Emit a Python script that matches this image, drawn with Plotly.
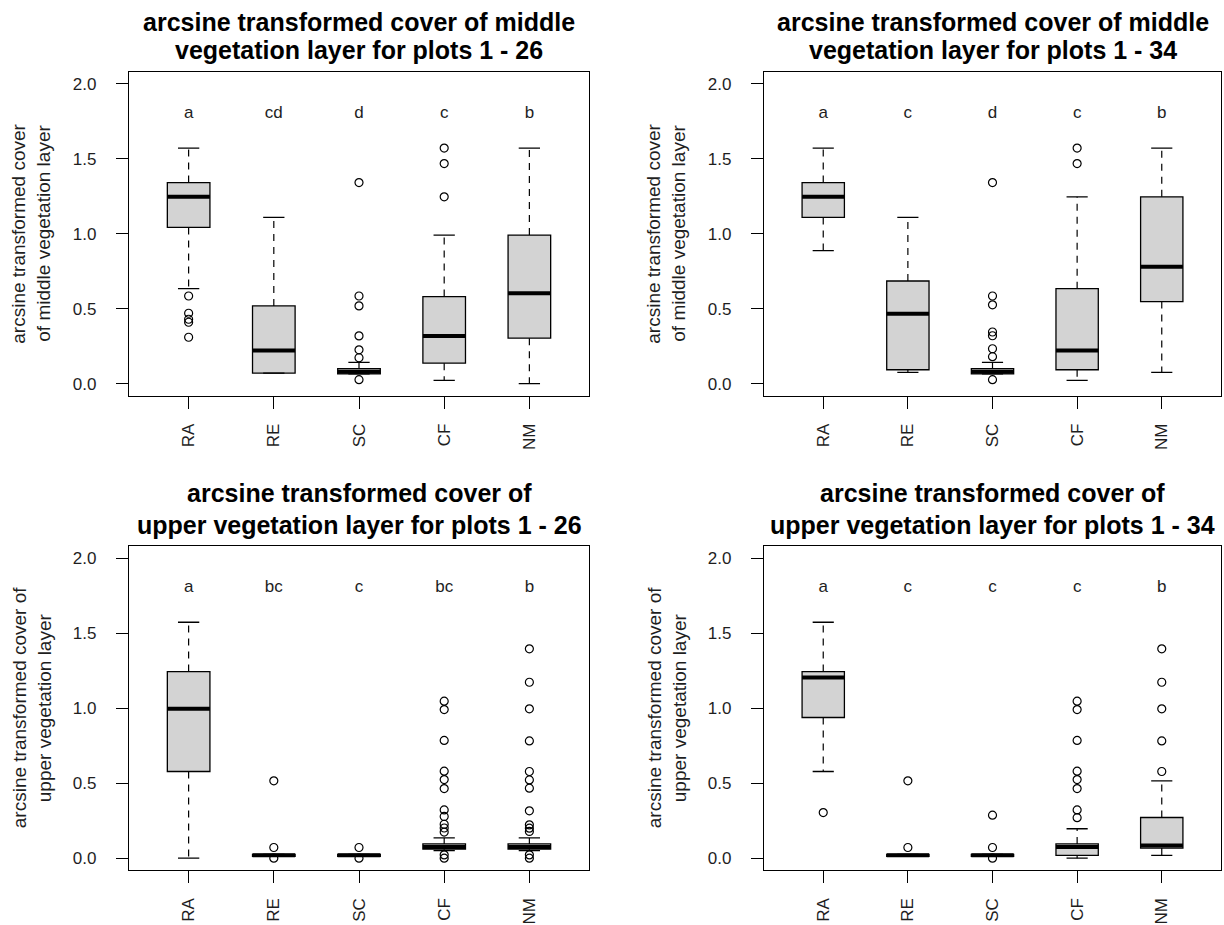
import plotly.graph_objects as go

W, H = 1224, 925

CATEGORIES = ["RA", "RE", "SC", "CF", "NM"]
POS = [1, 2, 3, 4, 5]
Y_TICKS = [0.0, 0.5, 1.0, 1.5, 2.0]
Y_TICK_LABELS = ["0.0", "0.5", "1.0", "1.5", "2.0"]
LETTER_Y = 1.8

# ---- panel 1: middle layer, plots 1-26
MID26_LOWER = [0.634, 0.071, 0.065, 0.022, 0.0]
MID26_Q1 = [1.042, 0.071, 0.065, 0.137, 0.304]
MID26_MEDIAN = [1.246, 0.222, 0.080, 0.319, 0.603]
MID26_Q3 = [1.341, 0.519, 0.100, 0.581, 0.991]
MID26_UPPER = [1.571, 1.109, 0.142, 0.991, 1.571]
MID26_OUTLIERS = [[0.585, 0.47, 0.43, 0.41, 0.31], [],
                  [0.027, 0.173, 0.226, 0.319, 0.519, 0.585, 1.341],
                  [1.246, 1.468, 1.571], []]
MID26_LETTERS = ["a", "cd", "d", "c", "b"]

# ---- panel 2: middle layer, plots 1-34
MID34_LOWER = [0.887, 0.075, 0.065, 0.022, 0.075]
MID34_Q1 = [1.109, 0.093, 0.065, 0.093, 0.548]
MID34_MEDIAN = [1.246, 0.466, 0.080, 0.222, 0.780]
MID34_Q3 = [1.341, 0.685, 0.100, 0.634, 1.246]
MID34_UPPER = [1.571, 1.109, 0.142, 1.246, 1.571]
MID34_OUTLIERS = [[], [],
                  [0.027, 0.18, 0.233, 0.32, 0.345, 0.526, 0.585, 1.341],
                  [1.468, 1.571], []]
MID34_LETTERS = ["a", "c", "d", "c", "b"]

# ---- panel 3: upper layer, plots 1-26
UP26_LOWER = [0.0, 0.012, 0.012, 0.05, 0.05]
UP26_Q1 = [0.578, 0.012, 0.012, 0.06, 0.06]
UP26_MEDIAN = [0.996, 0.020, 0.020, 0.075, 0.075]
UP26_Q3 = [1.244, 0.025, 0.025, 0.095, 0.095]
UP26_UPPER = [1.573, 0.025, 0.025, 0.135, 0.135]
UP26_OUTLIERS = [[], [0.0, 0.071, 0.516], [0.0, 0.071],
                 [0.0, 0.022, 0.174, 0.201, 0.226, 0.278, 0.322, 0.464, 0.524,
                  0.58, 0.785, 0.991, 1.047],
                 [0.0, 0.022, 0.178, 0.2, 0.222, 0.316, 0.467, 0.522, 0.578,
                  0.782, 0.996, 1.173, 1.396]]
UP26_LETTERS = ["a", "bc", "c", "bc", "b"]

# ---- panel 4: upper layer, plots 1-34
UP34_LOWER = [0.578, 0.012, 0.012, 0.0, 0.018]
UP34_Q1 = [0.938, 0.012, 0.012, 0.018, 0.067]
UP34_MEDIAN = [1.204, 0.020, 0.020, 0.075, 0.084]
UP34_Q3 = [1.244, 0.025, 0.025, 0.095, 0.271]
UP34_UPPER = [1.573, 0.025, 0.025, 0.196, 0.516]
UP34_OUTLIERS = [[0.304], [0.071, 0.516], [0.0, 0.071, 0.287],
                 [0.27, 0.322, 0.464, 0.524, 0.58, 0.785, 0.991, 1.047],
                 [0.578, 0.782, 0.996, 1.173, 1.396]]
UP34_LETTERS = ["a", "c", "c", "c", "b"]

TITLES = [["arcsine transformed cover of middle", "vegetation layer for plots 1 - 26"],
          ["arcsine transformed cover of middle", "vegetation layer for plots 1 - 34"],
          ["arcsine transformed cover of", "upper vegetation layer for plots 1 - 26"],
          ["arcsine transformed cover of", "upper vegetation layer for plots 1 - 34"]]
YTITLES = [["arcsine transformed cover", "of middle vegetation layer"],
           ["arcsine transformed cover", "of middle vegetation layer"],
           ["arcsine transformed cover of", "upper vegetation layer"],
           ["arcsine transformed cover of", "upper vegetation layer"]]

PANELS = [
    (MID26_LOWER, MID26_Q1, MID26_MEDIAN, MID26_Q3, MID26_UPPER, MID26_OUTLIERS, MID26_LETTERS),
    (MID34_LOWER, MID34_Q1, MID34_MEDIAN, MID34_Q3, MID34_UPPER, MID34_OUTLIERS, MID34_LETTERS),
    (UP26_LOWER, UP26_Q1, UP26_MEDIAN, UP26_Q3, UP26_UPPER, UP26_OUTLIERS, UP26_LETTERS),
    (UP34_LOWER, UP34_Q1, UP34_MEDIAN, UP34_Q3, UP34_UPPER, UP34_OUTLIERS, UP34_LETTERS),
]

# plot-area rectangles in pixels (left, right, top, bottom)
RECTS = [(129, 589, 72, 397), (764, 1221, 72, 397),
         (129, 589, 548, 873), (764, 1221, 548, 873)]
TITLE_LINES_Y = [(22, 50), (22, 50), (495, 527), (495, 527)]

BOX_W = 0.5
CAP_HALF = 0.125
FONT = "Liberation Sans, Arial, sans-serif"
TXT = "#1e1e1e"

fig = go.Figure()
annotations = []
for k, (panel, rect) in enumerate(zip(PANELS, RECTS), start=1):
    lower, q1, med, q3, upper, outliers, letters = panel
    xa, ya = f"x{k}", f"y{k}"
    fig.add_trace(go.Box(x=POS, q1=q1, median=med, q3=q3, lowerfence=q1, upperfence=q3,
                         width=BOX_W, whiskerwidth=0, fillcolor="#d3d3d3",
                         line=dict(color="black", width=1.3), boxpoints=False,
                         showlegend=False, hoverinfo="skip", xaxis=xa, yaxis=ya))
    # dashed whiskers
    wx, wy = [], []
    for p, a, b, c, d in zip(POS, lower, q1, q3, upper):
        wx += [p, p, None, p, p, None]
        wy += [c, d, None, b, a, None]
    fig.add_trace(go.Scatter(x=wx, y=wy, mode="lines", line=dict(color="black", width=1.2, dash="7px,6px"),
                             showlegend=False, hoverinfo="skip", xaxis=xa, yaxis=ya))
    # staples
    sx, sy = [], []
    for p, a, d in zip(POS, lower, upper):
        sx += [p - CAP_HALF, p + CAP_HALF, None, p - CAP_HALF, p + CAP_HALF, None]
        sy += [a, a, None, d, d, None]
    fig.add_trace(go.Scatter(x=sx, y=sy, mode="lines", line=dict(color="black", width=1.3),
                             showlegend=False, hoverinfo="skip", xaxis=xa, yaxis=ya))
    # thick medians
    mx, my = [], []
    for p, m in zip(POS, med):
        mx += [p - BOX_W / 2, p + BOX_W / 2, None]
        my += [m, m, None]
    fig.add_trace(go.Scatter(x=mx, y=my, mode="lines", line=dict(color="black", width=4),
                             showlegend=False, hoverinfo="skip", xaxis=xa, yaxis=ya))
    # outliers
    ox, oy = [], []
    for p, outs in zip(POS, outliers):
        ox += [p] * len(outs)
        oy += outs
    fig.add_trace(go.Scatter(x=ox, y=oy, mode="markers",
                             marker=dict(symbol="circle-open", size=8, color="black", line=dict(width=1.2)),
                             showlegend=False, hoverinfo="skip", xaxis=xa, yaxis=ya))
    # group letters
    fig.add_trace(go.Scatter(x=POS, y=[LETTER_Y] * len(POS), mode="text", text=letters,
                             textfont=dict(family=FONT, size=17, color=TXT),
                             showlegend=False, hoverinfo="skip", xaxis=xa, yaxis=ya))

    l, r, t, b = rect
    axis_common = dict(showline=True, linecolor="black", linewidth=1.3, mirror=True,
                       ticks="outside", ticklen=12, tickcolor="black", tickwidth=1.2,
                       showgrid=False, zeroline=False,
                       tickfont=dict(family=FONT, size=17, color=TXT))
    fig.update_layout(**{
        f"xaxis{k}": dict(domain=[l / W, r / W], anchor=ya, range=[0.3, 5.7],
                          tickvals=POS, ticktext=CATEGORIES, tickangle=-90,
                          ticklabelstandoff=8, **axis_common),
        f"yaxis{k}": dict(domain=[1 - b / H, 1 - t / H], anchor=xa, range=[-0.08, 2.08],
                          tickvals=Y_TICKS, ticktext=Y_TICK_LABELS,
                          ticklabelstandoff=16, **axis_common),
    })
    cx = (l + r) / 2
    for line, py in zip(TITLES[k - 1], TITLE_LINES_Y[k - 1]):
        annotations.append(dict(text=f"<b>{line}</b>", x=cx / W, y=1 - py / H, xref="paper", yref="paper",
                                xanchor="center", yanchor="middle", showarrow=False,
                                font=dict(family=FONT, size=25, color="black")))
    cy = (t + b) / 2
    for line, off in zip(YTITLES[k - 1], (110, 85)):
        annotations.append(dict(text=line, x=(l - off) / W, y=1 - cy / H, xref="paper", yref="paper",
                                xanchor="center", yanchor="middle", textangle=-90, showarrow=False,
                                font=dict(family=FONT, size=19, color=TXT)))

fig.update_layout(width=W, height=H, margin=dict(l=0, r=0, t=0, b=0),
                  paper_bgcolor="white", plot_bgcolor="white", annotations=annotations)

fig.write_html("out.html")
